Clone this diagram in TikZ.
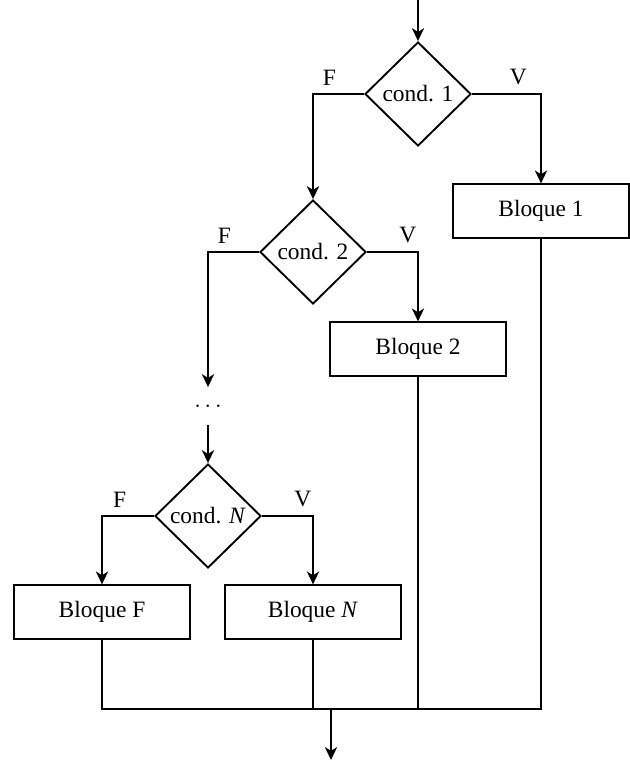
\documentclass[tikz,border=0pt]{standalone}
\usepackage{fontspec}
\setmainfont{Liberation Serif}
\usetikzlibrary{shapes.geometric,arrows.meta}

\tikzset{
  cond/.style={draw, shape=diamond, inner sep=0pt, minimum width=1.59cm, minimum height=1.56cm},
  bloque/.style={draw, rectangle, minimum width=2.64cm, minimum height=0.8cm},
  flecha/.style={-{Stealth[length=5.5pt,width=5.2pt,inset=1.6pt]}},
}

\begin{document}
\begin{tikzpicture}[thick]
  \useasboundingbox (0,0) rectangle (9.45,-11.4);

  \coordinate(ini) at (6.27, 0);
  \node[cond](C1) at (6.27, -1.41) {cond. 1};
  \node[bloque](B1) at (8.115, -3.165) {Bloque 1};
  \node[cond](C2) at (4.695, -3.78) {cond. 2};
  \node[bloque](B2) at (6.27, -5.235) {Bloque 2};
  \node[minimum height=0.54cm, inner sep=0pt](P) at (3.12, -6.09) {$\dots$};
  \node[cond](CN) at (3.12, -7.74) {cond. \textit{N}};
  \node[bloque](BF) at (1.53, -9.18) {Bloque F};
  \node[bloque](BN) at (4.695, -9.18) {Bloque \textit{N}};
  \coordinate(J) at (4.965, -10.635);
  \coordinate(fin) at (4.965, -11.4);

  \draw[flecha] (ini) to (C1);
  \draw[flecha] (C1.west) -| node[above, pos=0.34] {F} (C2.north);
  \draw[flecha] (C1.east) -| node[above, pos=0.335] {V} (B1.north);
  \draw[flecha] (C2.west) -| node[above, pos=0.34] {F} (P.north);
  \draw[flecha] (C2.east) -| node[above, pos=0.4] {V} (B2.north);
  \draw[flecha] (P.south) to (CN.north);
  \draw[flecha] (CN.west) -| node[above, pos=0.33] {F} (BF.north);
  \draw[flecha] (CN.east) -| node[above, pos=0.4] {V} (BN.north);

  \draw (BF.south) |- (J) -| (B1.south);
  \draw (BN.south) to (BN.south |- J);
  \draw (B2.south) to (B2.south |- J);
  \draw[flecha] (J) to (fin);
\end{tikzpicture}
\end{document}
